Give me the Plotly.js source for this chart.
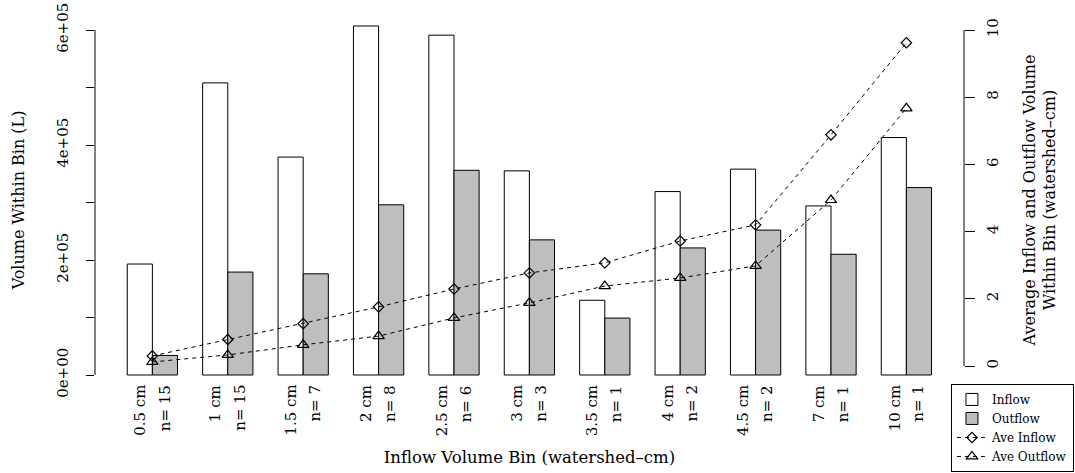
<!DOCTYPE html>
<html>
<head>
<meta charset="utf-8">
<script src="https://cdn.plot.ly/plotly-3.0.1.min.js"></script>
<style>
  html, body { margin: 0; padding: 0; background: #ffffff; }
  #chart { width: 1075px; height: 473px; }
</style>
</head>
<body>
<div id="chart"></div>
<script>
// Inflow volume bins (watershed-cm) and number of events per bin
const bins = ['0.5 cm', '1 cm', '1.5 cm', '2 cm', '2.5 cm', '3 cm', '3.5 cm', '4 cm', '4.5 cm', '7 cm', '10 cm'];
const counts = [15, 15, 7, 8, 6, 3, 1, 2, 2, 1, 1];

// Total volume within each bin (L)
const inflowVol = [193000, 508000, 379000, 607000, 591000, 355000, 130000, 319000, 358000, 294000, 413000];
const outflowVol = [34000, 179000, 176000, 296000, 356000, 235000, 99000, 221000, 252000, 210000, 326000];

// Average volume within each bin (watershed-cm)
const aveInflow = [0.30, 0.79, 1.26, 1.76, 2.29, 2.77, 3.07, 3.72, 4.20, 6.88, 9.62];
const aveOutflow = [0.12, 0.33, 0.63, 0.89, 1.43, 1.88, 2.38, 2.62, 2.98, 4.94, 7.67];

// Axis ticks
const leftTicks = [0, 100000, 200000, 300000, 400000, 500000, 600000];
const leftTickText = ['0e+00', '', '2e+05', '', '4e+05', '', '6e+05'];
const rightTicks = [0, 2, 4, 6, 8, 10];

const FONT = 'DejaVu Serif, Liberation Serif, serif';

const traces = [
  {
    type: 'bar', name: 'Inflow', x: bins, y: inflowVol,
    marker: { color: '#ffffff', line: { color: '#000000', width: 1 } },
    yaxis: 'y'
  },
  {
    type: 'bar', name: 'Outflow', x: bins, y: outflowVol,
    marker: { color: '#bebebe', line: { color: '#000000', width: 1 } },
    yaxis: 'y'
  },
  {
    type: 'scatter', mode: 'lines+markers', name: 'Ave Inflow', x: bins, y: aveInflow,
    yaxis: 'y2',
    line: { color: '#000000', width: 1, dash: '4px,4px' },
    marker: { symbol: 'diamond-open', size: 8, color: '#000000', line: { width: 1.2, color: '#000000' } }
  },
  {
    type: 'scatter', mode: 'lines+markers', name: 'Ave Outflow', x: bins, y: aveOutflow,
    yaxis: 'y2',
    line: { color: '#000000', width: 1, dash: '4px,4px' },
    marker: { symbol: 'triangle-up-open', size: 10, color: '#000000', line: { width: 1.2, color: '#000000' } }
  }
];

// Two-line category labels under each bar pair
const annotations = [];
bins.forEach((b, i) => {
  annotations.push({
    x: b, xref: 'x', y: -0.008, yref: 'paper', xshift: -12,
    text: b, showarrow: false, textangle: -90,
    xanchor: 'center', yanchor: 'top',
    font: { family: FONT, size: 15, color: '#000000' }
  });
  annotations.push({
    x: b, xref: 'x', y: -0.008, yref: 'paper', xshift: 12,
    text: 'n= ' + counts[i], showarrow: false, textangle: -90,
    xanchor: 'center', yanchor: 'top',
    font: { family: FONT, size: 15, color: '#000000' }
  });
});

const layout = {
  width: 1075, height: 473,
  margin: { l: 95, r: 111, t: 20, b: 93, pad: 0, autoexpand: false },
  paper_bgcolor: '#ffffff', plot_bgcolor: '#ffffff',
  font: { family: FONT, color: '#000000', size: 15 },
  barmode: 'group', bargap: 1 / 3, bargroupgap: 0,
  showlegend: true,
  legend: {
    x: 0.985, y: -0.011, xanchor: 'left', yanchor: 'top',
    bordercolor: '#000000', borderwidth: 1, bgcolor: '#ffffff',
    font: { family: FONT, size: 12, color: '#000000' },
    tracegroupgap: 0
  },
  xaxis: {
    type: 'category', range: [-0.761, 10.764],
    showticklabels: false, ticks: '', showline: false, showgrid: false, zeroline: false,
    title: { text: 'Inflow Volume Bin (watershed\u2013cm)', font: { family: FONT, size: 16.5 }, standoff: 71 },
    automargin: false
  },
  yaxis: {
    range: [-8696, 617391],
    tickvals: leftTicks, ticktext: leftTickText,
    ticks: 'outside', ticklen: 8, tickwidth: 1, tickcolor: '#000000',
    tickangle: -90, tickfont: { family: FONT, size: 15 }, ticklabelstandoff: 12,
    showline: false, showgrid: false, zeroline: false,
    title: { text: 'Volume Within Bin (L)', font: { family: FONT, size: 16 }, standoff: 25 },
    automargin: false
  },
  yaxis2: {
    overlaying: 'y', side: 'right',
    range: [-0.4167, 10.298],
    tickvals: rightTicks,
    ticks: 'outside', ticklen: 10, tickwidth: 1, tickcolor: '#000000',
    tickangle: -90, tickfont: { family: FONT, size: 15 }, ticklabelstandoff: 5,
    showline: false, showgrid: false, zeroline: false,
    title: { text: 'Average Inflow and Outflow Volume<br>Within Bin (watershed\u2013cm)', font: { family: FONT, size: 16 }, standoff: 22 },
    automargin: false
  },
  shapes: [
    // axis spines running only between the first and last tick
    { type: 'line', xref: 'paper', x0: 0, x1: 0, yref: 'y', y0: leftTicks[0], y1: leftTicks[leftTicks.length - 1], line: { color: '#000000', width: 1 } },
    { type: 'line', xref: 'paper', x0: 1, x1: 1, yref: 'y2', y0: rightTicks[0], y1: rightTicks[rightTicks.length - 1], line: { color: '#000000', width: 1 } }
  ],
  annotations: annotations
};

Plotly.newPlot('chart', traces, layout, { staticPlot: true, displayModeBar: false });
</script>
</body>
</html>
